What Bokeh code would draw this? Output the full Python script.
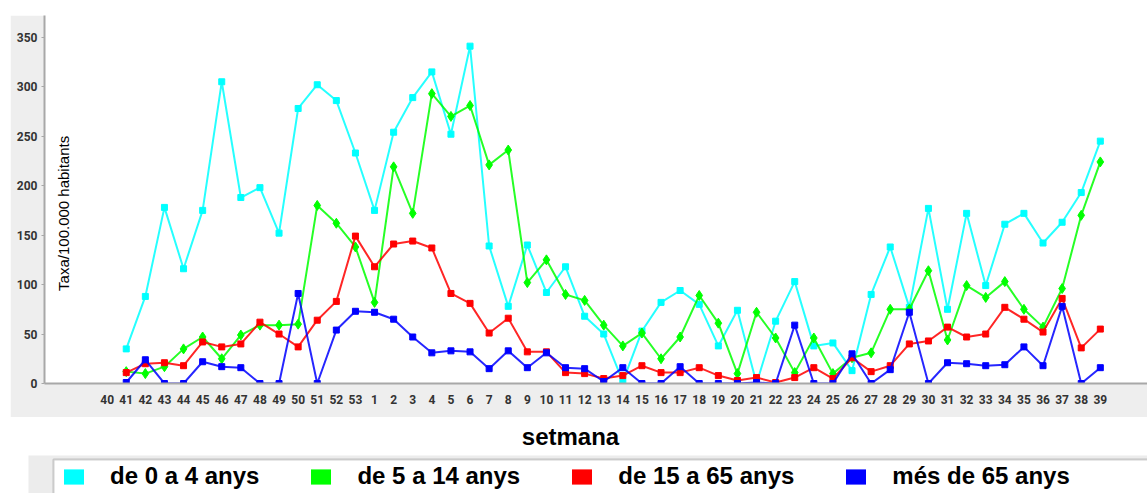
from math import pi
from bokeh.plotting import figure
from bokeh.layouts import column, row
from bokeh.models import (Range1d, FixedTicker, Label, Legend, LegendItem,
                          BoxAnnotation, Spacer)
from bokeh.embed import file_html
from bokeh.resources import INLINE

weeks = ["40", "41", "42", "43", "44", "45", "46", "47", "48", "49", "50", "51", "52", "53",
         "1", "2", "3", "4", "5", "6", "7", "8", "9", "10", "11", "12", "13", "14", "15",
         "16", "17", "18", "19", "20", "21", "22", "23", "24", "25", "26", "27", "28", "29",
         "30", "31", "32", "33", "34", "35", "36", "37", "38", "39"]

# values for weeks 41 .. 39 (week 40 has no data)
age_0_4 = [35, 88, 178, 116, 175, 305, 188, 198, 152, 278, 302, 286, 233,
           175, 254, 289, 315, 252, 341, 139, 78, 140, 92, 118, 68, 50, 2, 53,
           82, 94, 80, 38, 74, 0, 63, 103, 38, 41, 13, 90, 138, 77, 177, 75,
           172, 99, 161, 172, 142, 163, 193, 245]
age_5_14 = [12, 10, 17, 35, 47, 25, 49, 59, 59, 60, 180, 162, 138,
            82, 219, 172, 293, 270, 281, 221, 236, 102, 125, 90, 84, 59, 38, 51,
            25, 47, 89, 61, 10, 72, 46, 11, 46, 10, 26, 31, 75, 75, 114, 44,
            99, 87, 103, 75, 57, 96, 170, 224]
age_15_65 = [11, 20, 21, 18, 42, 37, 40, 62, 50, 37, 64, 83, 149,
             118, 141, 144, 137, 91, 81, 51, 66, 32, 32, 11, 10, 5, 8, 18,
             11, 11, 16, 8, 3, 6, 1, 6, 16, 5, 26, 12, 18, 40, 43, 57,
             47, 50, 77, 65, 52, 86, 36, 55]
age_65_plus = [1, 24, 0, 0, 22, 17, 16, 0, 0, 91, 0, 54, 73,
               72, 65, 47, 31, 33, 32, 15, 33, 16, 31, 16, 15, 2, 16, 0,
               0, 17, 0, 0, 0, 1, 0, 59, 0, 0, 30, 0, 14, 72, 0, 21,
               20, 18, 19, 37, 18, 78, 0, 16]

labels = ["de 0 a 4 anys", "de 5 a 14 anys", "de 15 a 65 anys", "més de 65 anys"]
colors = ["#00ffff", "#00ff00", "#ff0000", "#0000ff"]
markers = ["square", "diamond", "square", "square"]
y_ticks = [0, 50, 100, 150, 200, 250, 300, 350]

series = [age_0_4, age_5_14, age_15_65, age_65_plus]
x_idx = list(range(1, len(weeks)))

p = figure(width=1137, height=402, x_range=Range1d(-3.28, 54.47), y_range=Range1d(0, 372),
           output_backend="svg", toolbar_location=None, title=None,
           min_border_left=34, min_border_right=0, min_border_top=0, min_border_bottom=34,
           background_fill_color="white", border_fill_color="#eeeeee",
           outline_line_color=None)
p.xgrid.visible = False
p.ygrid.visible = False

for vals, c, m in zip(series, colors, markers):
    p.line(x_idx, vals, line_color=c, line_width=2, line_alpha=0.85)
    sz = 10 if m == "diamond" else 6
    p.scatter(x_idx, vals, marker=m, size=sz, fill_color=c, line_color=c)

for ax in (p.xaxis, p.yaxis):
    ax.axis_line_color = "#a8a8a8"
    ax.axis_line_width = 2
    ax.major_tick_line_color = "#a8a8a8"
    ax.minor_tick_line_color = None
    ax.major_label_text_font = "Roboto"
    ax.major_label_text_font_style = "bold"
    ax.major_label_text_font_size = "12px"
    ax.major_label_text_color = "#333333"

p.xaxis.ticker = FixedTicker(ticks=list(range(len(weeks))))
p.xaxis.major_label_overrides = {i: w for i, w in enumerate(weeks)}
p.xaxis.major_tick_out = 0
p.xaxis.major_tick_in = 0
p.xaxis.major_label_standoff = 11

p.yaxis.ticker = FixedTicker(ticks=y_ticks)
p.yaxis.major_tick_out = 3
p.yaxis.major_tick_in = 0
p.yaxis.major_label_standoff = 4

p.add_layout(Label(x=-2.28, y=172, text="Taxa/100.000 habitants", angle=pi / 2,
                   text_align="center", text_baseline="middle",
                   text_font="Liberation Sans", text_font_size="15px",
                   text_color="black"))

# lower panel: axis title and legend (coordinates in page pixels)
p2 = figure(width=1147, height=76, x_range=Range1d(0, 1147), y_range=Range1d(493, 417),
            output_backend="svg", toolbar_location=None, title=None,
            x_axis_location=None, y_axis_location=None,
            min_border=0, min_border_left=0, min_border_right=0,
            min_border_top=0, min_border_bottom=0,
            background_fill_color="white", border_fill_color="white",
            outline_line_color=None)
p2.xgrid.visible = False
p2.ygrid.visible = False

p2.add_layout(BoxAnnotation(left=28, right=1160, top=455, bottom=510,
                            fill_color="#ececec", fill_alpha=1, line_color=None))
p2.add_layout(BoxAnnotation(left=53, right=1170, top=459, bottom=510,
                            fill_color="white", fill_alpha=1,
                            line_color="#666666", line_width=2))
p2.add_layout(Label(x=570, y=436, text="setmana", text_align="center",
                    text_baseline="middle", text_font="Liberation Sans",
                    text_font_size="24px", text_font_style="bold", text_color="black"))

items = []
nan = float("nan")
for lab, c in zip(labels, colors):
    r = p2.rect(x=[nan], y=[nan], width=1, height=1, fill_color=c, line_color=None)
    items.append(LegendItem(label=lab, renderers=[r]))

leg = Legend(items=items, orientation="horizontal", location=(61, 3),
             glyph_width=25, glyph_height=19, label_standoff=24, spacing=49,
             padding=10, margin=0,
             label_text_font="Liberation Sans", label_text_font_size="24px",
             label_text_font_style="bold", label_text_color="black",
             border_line_color=None, background_fill_alpha=0)
p2.add_layout(leg, "center")

layout = column(Spacer(height=15), row(Spacer(width=10), p), p2)

open("out.html", "w").write(file_html(layout, INLINE))
